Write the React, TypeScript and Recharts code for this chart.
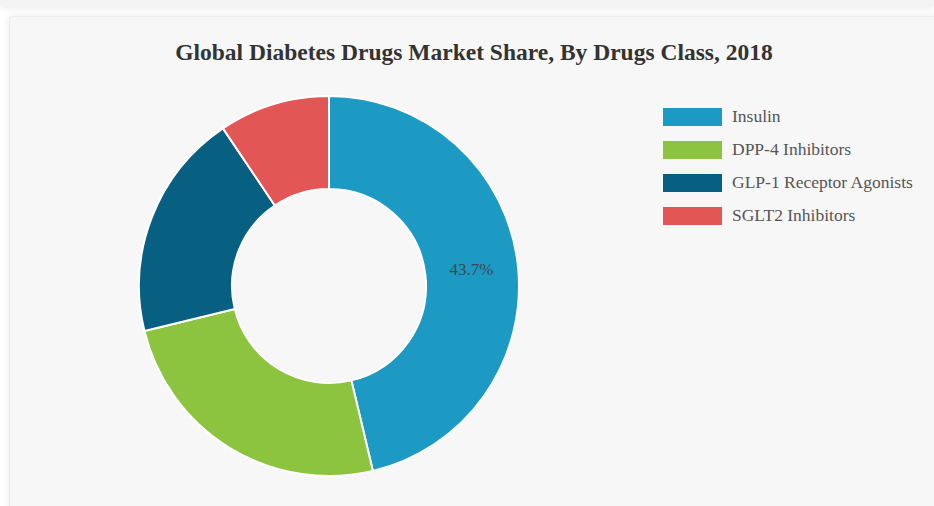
import { PieChart, Pie, Cell, Legend } from "recharts";

const drugClasses = ["Insulin", "DPP-4 Inhibitors", "GLP-1 Receptor Agonists", "SGLT2 Inhibitors"];
const shares = [43.7, 23.5, 18.3, 8.9];
const colors = ["#1c9ac3", "#8cc43f", "#075f82", "#e25656"];

const data = drugClasses.map((name, i) => ({ name, value: shares[i] }));

const serif = '"Liberation Serif", "DejaVu Serif", serif';

// only the biggest slice gets its value printed
const renderLabel = (props: any) => {
  const { cx, cy, midAngle, innerRadius, outerRadius, value, index } = props;
  if (index !== 0) return null;
  const RAD = Math.PI / 180;
  const r = (innerRadius + outerRadius) / 2;
  const x = cx + r * Math.cos(-midAngle * RAD);
  const y = cy + r * Math.sin(-midAngle * RAD);
  return (
    <text x={x} y={y} textAnchor="middle" dominantBaseline="central" fill="#3a4a52" fontSize={17} fontFamily={serif}>
      {value}%
    </text>
  );
};

const renderLegend = () => (
  <div style={{ fontFamily: serif }}>
    {data.map((d, i) => (
      <div key={d.name} style={{ display: "flex", alignItems: "center", height: 33 }}>
        <div style={{ width: 59, height: 18, background: colors[i], marginRight: 10 }} />
        <span style={{ fontSize: 17.5, color: "#555" }}>{d.name}</span>
      </div>
    ))}
  </div>
);

export default function App() {
  return (
    <div style={{ position: "fixed", left: 0, top: 0, width: 934, height: 506, overflow: "hidden", background: "#fff" }}>
      <div style={{ position: "absolute", left: 0, top: -30, width: 934, height: 36, background: "#f4f4f4", boxShadow: "0 2px 6px rgba(0,0,0,0.08)" }} />
      <div
        style={{
          position: "absolute",
          left: 9,
          top: 16,
          width: 960,
          height: 520,
          background: "#f7f7f7",
          borderRadius: 4,
          border: "1px solid #ececec",
          boxShadow: "0 0 8px rgba(0,0,0,0.08)",
        }}
      />
      <div
        style={{
          position: "absolute",
          left: 0,
          top: 39,
          width: 948,
          textAlign: "center",
          fontFamily: serif,
          fontWeight: "bold",
          fontSize: 23.5,
          color: "#333",
        }}
      >
        Global Diabetes Drugs Market Share, By Drugs Class, 2018
      </div>
      <div style={{ position: "absolute", left: 0, top: 0 }}>
        <PieChart width={934} height={506} margin={{ top: 0, right: 0, bottom: 0, left: 0 }}>
          <Pie
            data={data}
            dataKey="value"
            nameKey="name"
            cx={329}
            cy={286}
            innerRadius={97}
            outerRadius={190}
            startAngle={90}
            endAngle={-270}
            stroke="#ffffff"
            strokeWidth={2}
            label={renderLabel}
            labelLine={false}
            isAnimationActive={false}
          >
            {data.map((d, i) => (
              <Cell key={d.name} fill={colors[i]} />
            ))}
          </Pie>
          <Legend
            layout="vertical"
            verticalAlign="top"
            align="right"
            content={renderLegend}
            wrapperStyle={{ left: 663, top: 100, width: 270 }}
          />
        </PieChart>
      </div>
    </div>
  );
}
